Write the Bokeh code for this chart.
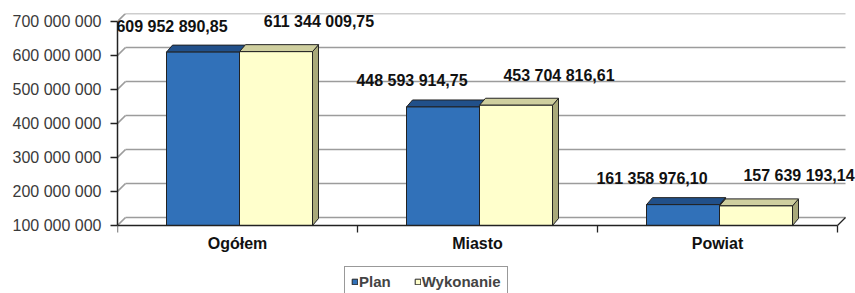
from bokeh.plotting import figure
from bokeh.models import (Range1d, FixedTicker, ColumnDataSource, LabelSet,
                          Legend, LegendItem)
from bokeh.embed import file_html
from bokeh.resources import INLINE
from bokeh.core.properties import value

# ---------------- data ----------------
categories = ["Ogółem", "Miasto", "Powiat"]
series_names = ["Plan", "Wykonanie"]
plan = [609952890.85, 448593914.75, 161358976.10]
wykonanie = [611344009.75, 453704816.61, 157639193.14]
y_ticks = [100e6, 200e6, 300e6, 400e6, 500e6, 600e6, 700e6]
y_tick_labels = ["100 000 000", "200 000 000", "300 000 000", "400 000 000",
                 "500 000 000", "600 000 000", "700 000 000"]

# ---------------- layout / style ----------------
FONT = "Liberation Sans"
W, H = 855, 293
BL, BR, BT, BB = 117, 0, 13, 0
n = len(categories)
fw = W - BL - BR
fh = H - BT - BB
axis_px = 204                       # pixel height from lowest to highest tick
cat_px = 240                        # pixel width of one category
uy = (y_ticks[-1] - y_ticks[0]) / axis_px
ux = 1.0 / cat_px
y_end = y_ticks[-1] + 8 * uy
y_start = y_end - fh * uy
x_start = 0.0
x_end = x_start + fw * ux

wall_dx, wall_dy = 8 * ux, 8 * uy
bar_dx, bar_dy = 6 * ux, 7 * uy
bar_w = 73 * ux
bar_shift = 2 * ux

GRID = "#9c9c9c"
DARK = "#222222"
PLAN_FRONT, PLAN_TOP, PLAN_SIDE = "#3171b9", "#21508a", "#1a3f6b"
WYK_FRONT, WYK_TOP, WYK_SIDE = "#ffffcc", "#cfcf9f", "#a9a97a"


def fmt(v):
    return f"{v:,.2f}".replace(",", " ").replace(".", ",")


p = figure(width=W, height=H, x_range=Range1d(x_start, x_end),
           y_range=Range1d(y_start, y_end), output_backend="svg",
           toolbar_location=None, min_border_left=BL, min_border_right=BR,
           min_border_top=BT, min_border_bottom=BB)
p.xgrid.visible = False
p.ygrid.visible = False
p.outline_line_color = None
p.background_fill_color = "white"

# ---------------- 3D walls: gridlines ----------------
p.segment(x0=[x_start] * len(y_ticks), y0=y_ticks,
          x1=[x_start + wall_dx] * len(y_ticks), y1=[t + wall_dy for t in y_ticks],
          line_color=GRID, line_width=1.7)
p.segment(x0=[x_start + wall_dx] * len(y_ticks), y0=[t + wall_dy for t in y_ticks],
          x1=[n + wall_dx] * len(y_ticks), y1=[t + wall_dy for t in y_ticks],
          line_color=GRID, line_width=1.7)
# floor right edge
p.segment(x0=[n], y0=[y_ticks[0]], x1=[n + wall_dx], y1=[y_ticks[0] + wall_dy],
          line_color=DARK, line_width=1.3)

# ---------------- bars ----------------
def faces(lefts, rights, vals, base):
    front = dict(left=lefts, right=rights, bottom=[base] * len(vals), top=vals)
    top_xs, top_ys, side_xs, side_ys = [], [], [], []
    for l, r, v in zip(lefts, rights, vals):
        top_xs.append([l, l + bar_dx, r + bar_dx, r])
        top_ys.append([v, v + bar_dy, v + bar_dy, v])
        side_xs.append([r, r, r + bar_dx, r + bar_dx])
        side_ys.append([base, v, v + bar_dy, base + bar_dy])
    return front, dict(xs=top_xs, ys=top_ys), dict(xs=side_xs, ys=side_ys)


centers = [i + 0.5 for i in range(n)]
mids = [c + bar_shift for c in centers]
base = y_ticks[0]
pf, pt, ps = faces([c - bar_w for c in mids], mids, plan, base)
wf, wt, ws = faces(mids, [c + bar_w for c in mids], wykonanie, base)

p.patches(xs="xs", ys="ys", source=ColumnDataSource(ps), fill_color=PLAN_SIDE,
          line_color=DARK, line_width=1)
p.patches(xs="xs", ys="ys", source=ColumnDataSource(pt), fill_color=PLAN_TOP,
          line_color=DARK, line_width=1)
r_plan = p.quad(source=ColumnDataSource(pf), left="left", right="right",
                bottom="bottom", top="top", fill_color=PLAN_FRONT,
                line_color=DARK, line_width=1)
p.patches(xs="xs", ys="ys", source=ColumnDataSource(ws), fill_color=WYK_SIDE,
          line_color=DARK, line_width=1)
p.patches(xs="xs", ys="ys", source=ColumnDataSource(wt), fill_color=WYK_TOP,
          line_color=DARK, line_width=1)
r_wyk = p.quad(source=ColumnDataSource(wf), left="left", right="right",
               bottom="bottom", top="top", fill_color=WYK_FRONT,
               line_color=DARK, line_width=1)

# ---------------- value labels ----------------
plan_lbl = ColumnDataSource(dict(x=[c - bar_w / 2 for c in mids], y=plan,
                                 text=[fmt(v) for v in plan]))
wyk_lbl = ColumnDataSource(dict(x=[c + bar_w / 2 for c in mids], y=wykonanie,
                                text=[fmt(v) for v in wykonanie]))
for src, xo, yo in ((plan_lbl, -31, 26), (wyk_lbl, 43, 30)):
    p.add_layout(LabelSet(x="x", y="y", text="text", source=src, x_offset=xo,
                          y_offset=yo, text_align="center", text_baseline="middle",
                          text_font=value(FONT), text_font_style="bold",
                          text_font_size="16px", text_color="#111111"))

# ---------------- axes ----------------
ya = p.yaxis[0]
ya.ticker = FixedTicker(ticks=y_ticks)
ya.major_label_overrides = {t: l for t, l in zip(y_ticks, y_tick_labels)}
ya.bounds = (y_ticks[0], y_ticks[-1])
ya.axis_line_color = DARK
ya.axis_line_width = 1.5
ya.major_tick_line_color = DARK
ya.major_tick_line_width = 1.5
ya.major_tick_in = 0
ya.major_tick_out = 7
ya.minor_tick_line_color = None
ya.major_label_standoff = 9
ya.major_label_text_font = FONT
ya.major_label_text_font_size = "16px"
ya.major_label_text_color = "#3a3a3a"

xa = p.xaxis[0]
xa.fixed_location = y_ticks[0]
xa.ticker = FixedTicker(ticks=centers, minor_ticks=list(range(n + 1)))
xa.major_label_overrides = {c: name for c, name in zip(centers, categories)}
xa.bounds = (0, n)
xa.axis_line_color = DARK
xa.axis_line_width = 1.5
xa.major_tick_line_color = None
xa.major_tick_out = 0
xa.major_tick_in = 0
xa.minor_tick_line_color = DARK
xa.minor_tick_line_width = 1.3
xa.minor_tick_in = 0
xa.minor_tick_out = 7
xa.major_label_standoff = 2
xa.major_label_text_font = FONT
xa.major_label_text_font_style = "bold"
xa.major_label_text_font_size = "16px"
xa.major_label_text_color = "#111111"

# ---------------- legend ----------------
legend = Legend(items=[LegendItem(label=series_names[0], renderers=[r_plan]),
                       LegendItem(label=series_names[1], renderers=[r_wyk])],
                orientation="horizontal", location=(227, -4), glyph_width=7,
                glyph_height=7, label_standoff=1, spacing=23,
                padding=6, margin=0, border_line_color="#333333",
                border_line_width=1.5, label_text_font=FONT,
                label_text_font_style="bold", label_text_font_size="15px",
                label_height=16, background_fill_color="white",
                background_fill_alpha=1.0)
p.add_layout(legend, "center")

open("out.html", "w").write(file_html(p, INLINE))
